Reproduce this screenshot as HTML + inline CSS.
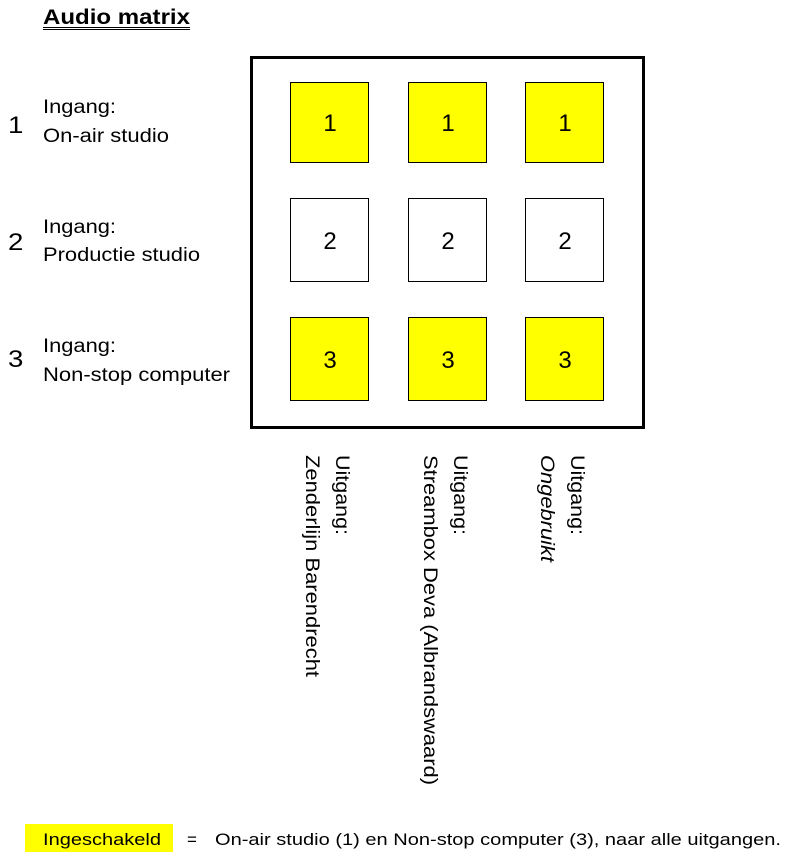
<!DOCTYPE html>
<html><head><meta charset="utf-8"><style>html,body{margin:0;padding:0;background:#fff}svg{display:block}</style></head>
<body>
<svg width="800" height="857" viewBox="0 0 800 857" xmlns="http://www.w3.org/2000/svg" font-family="Liberation Sans, Arial, sans-serif">
<text x="43" y="24" font-size="21" font-weight="bold" textLength="147" lengthAdjust="spacingAndGlyphs">Audio matrix</text>
<line x1="43" y1="27.5" x2="190" y2="27.5" stroke="#000" stroke-width="1"/>
<line x1="43" y1="29.5" x2="190" y2="29.5" stroke="#000" stroke-width="1"/>

<g font-size="24" transform="scale(1.15,1)"><text x="7" y="133">1</text><text x="7" y="250">2</text><text x="7" y="367">3</text></g>
<g font-size="19">
<text x="43" y="113" textLength="73" lengthAdjust="spacingAndGlyphs">Ingang:</text><text x="43" y="142" textLength="126" lengthAdjust="spacingAndGlyphs">On-air studio</text>
<text x="43" y="233" textLength="73" lengthAdjust="spacingAndGlyphs">Ingang:</text><text x="43" y="261" textLength="157" lengthAdjust="spacingAndGlyphs">Productie studio</text>
<text x="43" y="352" textLength="73" lengthAdjust="spacingAndGlyphs">Ingang:</text><text x="43" y="381" textLength="187" lengthAdjust="spacingAndGlyphs">Non-stop computer</text>
</g>

<rect x="251.5" y="57.5" width="392" height="370" fill="none" stroke="#000" stroke-width="3"/>
<g stroke="#000" stroke-width="1">
<rect x="290.5" y="82.5" width="78" height="80" fill="#ffff00"/>
<rect x="408.5" y="82.5" width="78" height="80" fill="#ffff00"/>
<rect x="525.5" y="82.5" width="78" height="80" fill="#ffff00"/>
<rect x="290.5" y="198.5" width="78" height="83" fill="#fff"/>
<rect x="408.5" y="198.5" width="78" height="83" fill="#fff"/>
<rect x="525.5" y="198.5" width="78" height="83" fill="#fff"/>
<rect x="290.5" y="317.5" width="78" height="83" fill="#ffff00"/>
<rect x="408.5" y="317.5" width="78" height="83" fill="#ffff00"/>
<rect x="525.5" y="317.5" width="78" height="83" fill="#ffff00"/>
</g>
<g font-size="24" text-anchor="middle">
<text x="330" y="131">1</text><text x="448" y="131">1</text><text x="565" y="131">1</text>
<text x="330" y="249">2</text><text x="448" y="249">2</text><text x="565" y="249">2</text>
<text x="330" y="368">3</text><text x="448" y="368">3</text><text x="565" y="368">3</text>
</g>

<g font-size="19">
<text transform="translate(336,455) rotate(90)" textLength="80" lengthAdjust="spacingAndGlyphs">Uitgang:</text>
<text transform="translate(306,455) rotate(90)" textLength="222" lengthAdjust="spacingAndGlyphs">Zenderlijn Barendrecht</text>
<text transform="translate(454,455) rotate(90)" textLength="80" lengthAdjust="spacingAndGlyphs">Uitgang:</text>
<text transform="translate(424,455) rotate(90)" textLength="330" lengthAdjust="spacingAndGlyphs">Streambox Deva (Albrandswaard)</text>
<text transform="translate(571,455) rotate(90)" textLength="80" lengthAdjust="spacingAndGlyphs">Uitgang:</text>
<text transform="translate(541,455) rotate(90)" font-style="italic" textLength="107" lengthAdjust="spacingAndGlyphs">Ongebruikt</text>
</g>

<rect x="25" y="824" width="148" height="28" fill="#ffff00"/>
<g font-size="17">
<text x="43" y="845" textLength="118" lengthAdjust="spacingAndGlyphs">Ingeschakeld</text>
<text x="187" y="845">=</text>
<text x="215" y="845" textLength="566" lengthAdjust="spacingAndGlyphs">On-air studio (1) en Non-stop computer (3), naar alle uitgangen.</text>
</g>
</svg>
</body></html>
